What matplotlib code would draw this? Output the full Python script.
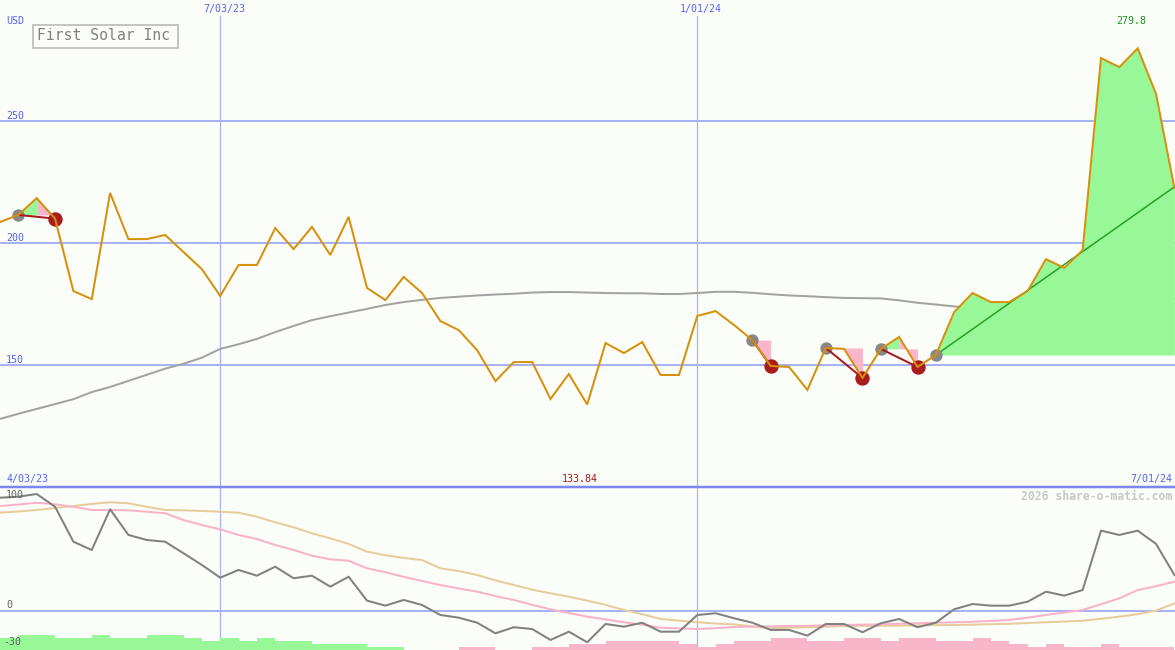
import numpy as np
import matplotlib
matplotlib.use("Agg")
import matplotlib.pyplot as plt
from matplotlib.lines import Line2D
from matplotlib.patches import Rectangle

# ---------------- data (weekly points, index 0..64) ----------------
price = [208.6, 211.5, 218.4, 210.0, 180.3, 177.0, 220.5, 201.6, 201.6, 203.3,
         196.3, 189.3, 178.3, 191.0, 191.0, 206.1, 197.5, 206.6, 195.1, 210.7,
         181.6, 176.6, 186.1, 179.5, 168.0, 164.3, 156.1, 143.4, 151.2, 151.2,
         136.1, 146.3, 133.84, 159.0, 154.9, 159.4, 145.9, 145.9, 170.1, 172.1,
         166.4, 160.2, 149.6, 149.2, 139.8, 157.0, 156.6, 144.7, 156.6, 161.5,
         149.2, 154.1, 171.7, 179.5, 175.8, 175.8, 180.3, 193.4, 189.8, 197.1,
         275.8, 272.1, 279.8, 261.1, 222.5]

price_ma = [127.9, 130.0, 132.0, 134.0, 136.0, 138.9, 141.0, 143.5, 146.0, 148.5,
            150.5, 153.0, 156.6, 158.5, 160.7, 163.5, 166.0, 168.4, 170.0, 171.5,
            173.0, 174.6, 175.8, 176.7, 177.5, 178.0, 178.5, 178.9, 179.2, 179.7,
            179.9, 179.9, 179.7, 179.5, 179.4, 179.4, 179.1, 179.1, 179.5, 180.0,
            180.0, 179.6, 179.0, 178.5, 178.2, 177.8, 177.5, 177.4, 177.3, 176.5,
            175.5, 174.8, 174.0, 173.4, 172.5, 171.7, 171.3, 171.3, 171.3, 171.3,
            172.5, 173.8, 175.0, 176.3, 177.0]

osc = [96.8, 97.7, 100.0, 89.1, 59.1, 52.0, 86.9, 64.9, 60.6, 59.1,
       49.2, 39.2, 28.3, 34.9, 30.0, 37.7, 27.8, 30.0, 20.6, 29.1,
       8.6, 4.3, 9.2, 4.9, -3.7, -6.0, -10.3, -19.4, -14.2, -15.7,
       -25.1, -18.0, -27.1, -11.4, -13.7, -10.3, -18.0, -18.0, -3.7, -2.2,
       -6.5, -10.3, -16.5, -16.5, -21.4, -11.4, -11.4, -18.5, -10.8, -7.1,
       -14.2, -10.3, 1.2, 5.7, 4.3, 4.3, 7.7, 16.3, 12.9, 17.7,
       68.6, 64.9, 68.6, 57.2, 30.6]

osc_fast = [89.7, 91.0, 92.5, 91.2, 89.0, 86.3, 86.3, 86.0, 84.8, 83.5,
            77.7, 73.4, 69.7, 64.9, 61.4, 56.3, 52.0, 47.1, 44.0, 42.8,
            36.3, 33.0, 29.0, 25.5, 22.0, 19.0, 16.3, 12.5, 9.2, 5.0,
            1.2, -2.0, -5.1, -7.5, -9.9, -12.0, -14.6, -15.2, -15.7, -15.0,
            -14.0, -13.7, -13.4, -13.1, -13.0, -12.5, -12.3, -12.0, -11.7, -11.2,
            -10.8, -10.3, -10.0, -9.5, -8.8, -8.0, -6.0, -3.7, -1.5, 0.6,
            5.5, 10.6, 17.7, 21.0, 24.8]

osc_slow = [84.0, 85.0, 86.3, 88.0, 89.7, 91.5, 92.9, 92.0, 89.0, 86.3,
            86.0, 85.5, 84.8, 84.0, 80.5, 75.7, 71.5, 66.3, 62.0, 57.2,
            50.6, 47.5, 45.2, 43.4, 36.3, 34.0, 30.6, 26.0, 22.0, 18.0,
            14.9, 12.0, 8.6, 5.0, 0.6, -3.0, -7.1, -8.5, -9.9, -11.0,
            -11.7, -13.5, -15.1, -14.6, -14.2, -13.8, -13.1, -13.0, -12.9, -12.8,
            -12.6, -12.4, -12.3, -12.0, -11.6, -11.2, -10.6, -9.9, -9.3, -8.6,
            -7.0, -5.1, -3.0, 0.0, 6.3]

# histogram per weekly segment (positive = green, negative = pink)
hist = [10, 13, 13, 10, 10, 13, 10, 10, 13, 13,
        10, 7.7, 10, 7.7, 10, 7.7, 7.7, 5.1, 5.1, 5.1,
        2.6, 2.6, 0, 0, 0, -2.6, -2.6, 0, 0, -2.6,
        -2.6, -5.1, -5.1, -7.7, -7.7, -7.7, -7.7, -5.1, -2.6, -5.1,
        -7.7, -7.7, -10, -10, -7.7, -7.7, -10, -10, -7.7, -10,
        -10, -7.7, -7.7, -10, -7.7, -5.1, -2.6, -5.1, -2.6, -2.6,
        -5.1, -2.6, -2.6, -2.6]

# patterns: (start marker index, end marker index)
patterns = [(1, 3), (41, 42), (45, 47), (48, 50)]
breakout_start = 51
trend_end_value = 223.0

price_ticks = [150, 200, 250]
date_tick_idx = [12, 38]
date_tick_labels = ["7/03/23", "1/01/24"]
first_date_label = "4/03/23"
last_date_label = "7/01/24"
low_label = "133.84"
high_label = "279.8"
osc_ticks = [100, 0, -30]

# ---------------- styling ----------------
W, H = 1175, 650
BG = '#fbfdf9'
GRID = '#a6b2f4'
LBL = '#5563f0'
MONO = 'DejaVu Sans Mono'
PX = 0.72  # points per pixel at dpi 100

fig = plt.figure(figsize=(W / 100, H / 100), dpi=100)
fig.patch.set_facecolor(BG)

ax = fig.add_axes([0, 163 / H, 1, 487 / H])
ax2 = fig.add_axes([0, 0, 1, 163 / H])
for a in (ax, ax2):
    a.set_facecolor(BG)
    a.set_axis_off()

n = len(price)
idx = np.arange(n)
XMAX = W / 18.35
ax.set_xlim(0, XMAX)
ax2.set_xlim(0, XMAX)
ax.set_ylim(100.0, 299.6)
LO_TOP, LO_BOT = 106.0, -33.7
ax2.set_ylim(LO_BOT, LO_TOP)

# grid
for v in price_ticks:
    ax.axhline(v, color=GRID, lw=2 * PX, zorder=0.5)
for i in date_tick_idx:
    ax.axvline(i, ymin=0, ymax=(487 - 16) / 487, color=GRID, lw=1.2 * PX, zorder=0.5)
    ax2.axvline(i, color=GRID, lw=1.2 * PX, zorder=0.5)
ax2.axhline(0, color=GRID, lw=2 * PX, zorder=0.5)

# moving average of price
ax.plot(idx, price_ma, color='#a2a2a2', lw=2 * PX, zorder=1)

p = np.array(price, dtype=float)
GREEN_F = '#98f898'
PINK_F = '#f8b6ca'

# pattern fills
for g, r in patterns:
    level = p[g]
    for j in range(g, r):
        xs = np.linspace(j, j + 1, 30)
        ys = np.interp(xs, idx, p)
        col = GREEN_F if p[j + 1] > p[j] else PINK_F
        ax.fill_between(xs, ys, level, color=col, lw=0, zorder=2)
    ax.plot([g, r], [p[g], p[r]], color='#a41c1c', lw=2 * PX, zorder=3.5)

# breakout fill and trend line
level = p[breakout_start]
xs = np.linspace(breakout_start, n - 1, 300)
ys = np.interp(xs, idx, p)
ax.fill_between(xs, ys, level, where=ys >= level, color=GREEN_F, lw=0, zorder=2)
ax.plot([breakout_start, n - 1], [level, trend_end_value], color='#22a022', lw=1.5 * PX, zorder=2.5)

# markers
gray_idx = [g for g, r in patterns] + [breakout_start]
red_idx = [r for g, r in patterns]
ax.plot(gray_idx, p[gray_idx], 'o', ms=11 * PX, color='#888888', mec='#888888', zorder=3)
ax.plot(red_idx, p[red_idx], 'o', ms=13 * PX, color='#a81c1c', mec='#a81c1c', zorder=3.6)

# price line
ax.plot(idx, p, color='#d6900a', lw=2 * PX, zorder=4, solid_joinstyle='miter')

# lower panel
h = np.array(hist, dtype=float)
seg = np.arange(len(h))
ax2.bar(seg, np.abs(h), bottom=LO_BOT, width=1.0, align='edge',
        color=np.where(h >= 0, GREEN_F, PINK_F), lw=0, zorder=1)
ax2.plot(idx, osc_slow, color='#e6cc9c', lw=2 * PX, zorder=2)
ax2.plot(idx, osc_fast, color='#f8b2c8', lw=2 * PX, zorder=2.2)
ax2.plot(idx, osc, color='#808080', lw=2 * PX, zorder=3)

# separator line between panels
fig.add_artist(Line2D([0, 1], [1 - 487 / H, 1 - 487 / H], color='#7a88ee', lw=2.5 * PX,
                      transform=fig.transFigure))


def ptext(x, y, s, **kw):
    kw.setdefault('family', MONO)
    kw.setdefault('va', 'center')
    fig.text(x / W, 1 - y / H, s, **kw)


# upper labels
ptext(6, 21, "USD", color=LBL, fontsize=7.2)
price_label_y = {250: 116, 200: 238, 150: 360}
for v in price_ticks:
    ptext(6, price_label_y[v], str(v), color=LBL, fontsize=7.2)
date_x = {12: 224, 38: 701}
for i, lab in zip(date_tick_idx, date_tick_labels):
    ptext(date_x[i], 9, lab, color=LBL, fontsize=7.2, ha='center')
ptext(7, 479, first_date_label, color=LBL, fontsize=7.2)
ptext(1172, 479, last_date_label, color=LBL, fontsize=7.2, ha='right')
ptext(580, 479, low_label, color='#a01818', fontsize=7.2, ha='center')
ptext(1131, 21, high_label, color='#209020', fontsize=7.2, ha='center')

# title box
fig.add_artist(Rectangle((33 / W, 1 - 48 / H), 145 / W, 23 / H, transform=fig.transFigure,
                         facecolor=BG, edgecolor='#c4c4c4', lw=2 * PX, zorder=5))
ptext(37, 36, "First Solar Inc", color='#808080', fontsize=10.6, zorder=6)

# watermark
ptext(1172, 496, "2026 share-o-matic.com", color='#c8c8c8', fontsize=8.3,
      ha='right', fontweight='bold')

# lower labels
osc_label_pos = {100: (6, 495), 0: (6, 605), -30: (3, 642)}
for v in osc_ticks:
    x, y = osc_label_pos[v]
    ptext(x, y, str(v), color='#606060', fontsize=7.2)

fig.savefig("out.png", dpi=100, facecolor=BG)
